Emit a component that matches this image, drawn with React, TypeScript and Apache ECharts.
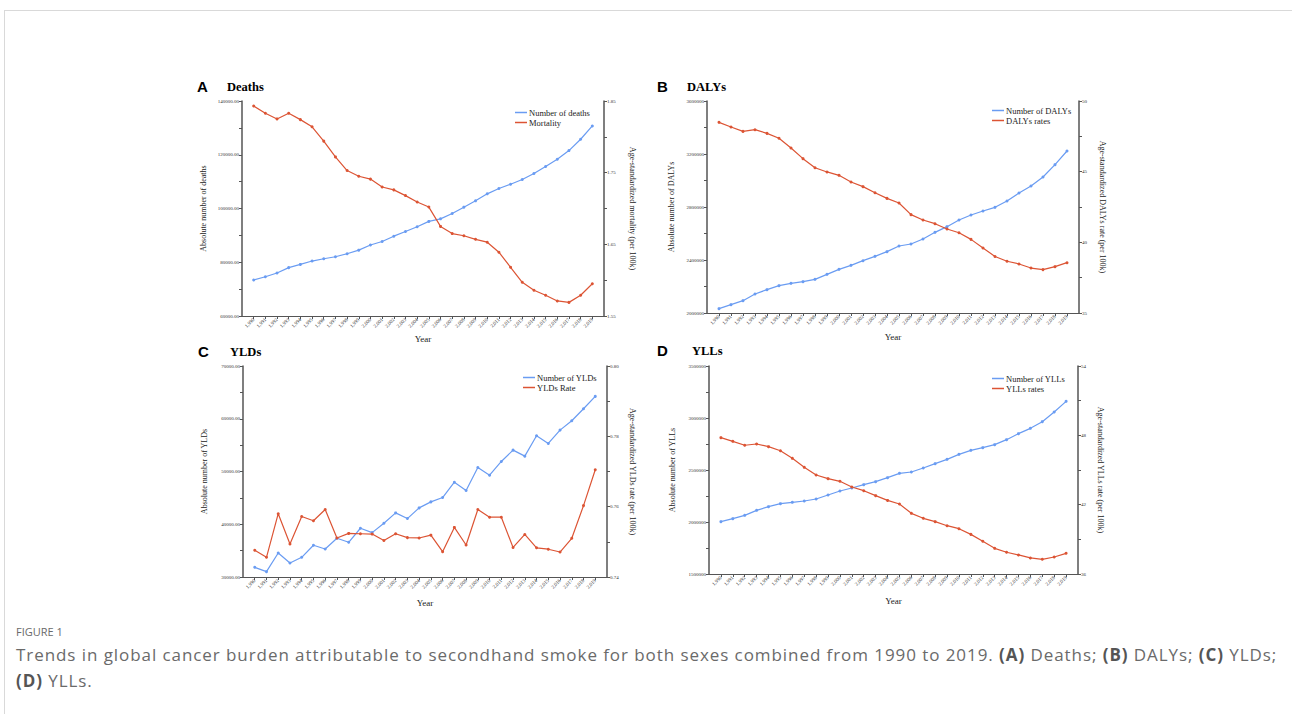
import React, { useEffect, useRef } from "react";
import * as echarts from "echarts";

const years = [1990,1991,1992,1993,1994,1995,1996,1997,1998,1999,2000,2001,2002,2003,2004,2005,2006,2007,2008,2009,2010,2011,2012,2013,2014,2015,2016,2017,2018,2019];

const deathsNumber = [73400,74600,76000,78000,79200,80450,81300,82050,83150,84500,86400,87740,89700,91450,93200,95200,96150,98140,100500,102850,105450,107430,109040,110770,113000,115600,118330,121550,125760,130710];
const deathsRate = [1.843,1.833,1.825,1.833,1.824,1.814,1.794,1.772,1.753,1.745,1.741,1.730,1.726,1.718,1.709,1.702,1.675,1.665,1.662,1.657,1.653,1.639,1.618,1.597,1.586,1.579,1.571,1.569,1.579,1.595];

const dalysNumber = [2032700,2062900,2093100,2143400,2176100,2206300,2223900,2236500,2254100,2291800,2329600,2359700,2394900,2427700,2462900,2505700,2520800,2558500,2608800,2651600,2701900,2739600,2769800,2797500,2845300,2905700,2958500,3026400,3119500,3222600];
const dalysRate = [48.49,48.16,47.85,47.97,47.71,47.36,46.67,45.92,45.28,44.98,44.74,44.27,43.94,43.51,43.11,42.78,41.96,41.58,41.32,40.94,40.68,40.21,39.6,39.0,38.66,38.47,38.18,38.07,38.28,38.56];

const yldsNumber = [31835,31013,34557,32658,33734,36013,35316,37342,36582,39241,38418,40190,42152,41076,43101,44241,45063,47975,46392,50759,49304,51899,54051,52911,56772,55316,57848,59620,61899,64241];
const yldsRate = [0.7476,0.7456,0.7580,0.7494,0.7572,0.7560,0.7592,0.7511,0.7524,0.7523,0.7522,0.7504,0.7523,0.7512,0.7511,0.7519,0.7472,0.7541,0.7491,0.7592,0.7570,0.7570,0.7484,0.7521,0.7483,0.7479,0.7471,0.7510,0.7603,0.7705];

const yllsNumber = [2003200,2032100,2064100,2112200,2147400,2176300,2189100,2201900,2221200,2259600,2298100,2326900,2359000,2387800,2426300,2467900,2480800,2519200,2560900,2602600,2650600,2689100,2714700,2743600,2791700,2849400,2900600,2964700,3057700,3160300];
const yllsRate = [47.8,47.48,47.14,47.25,47.02,46.67,46.01,45.23,44.57,44.25,44.02,43.53,43.21,42.78,42.37,42.06,41.25,40.82,40.53,40.18,39.92,39.43,38.83,38.22,37.88,37.65,37.39,37.27,37.47,37.79];

// tick labels (major) and tick marks (major + minor)
const deathsLeftLabels = [60000,80000,100000,120000,140000];
const deathsLeftTicks = [60000,70000,80000,90000,100000,110000,120000,130000,140000];
const deathsRightLabels = [1.55,1.65,1.75,1.85];
const deathsRightTicks = [1.55,1.6,1.65,1.7,1.75,1.8,1.85];

const dalysLeftLabels = [2000000,2400000,2800000,3200000,3600000];
const dalysLeftTicks = [2000000,2200000,2400000,2600000,2800000,3000000,3200000,3400000,3600000];
const dalysRightLabels = [35,40,45,50];
const dalysRightTicks = [35,37.5,40,42.5,45,47.5,50];

const yldsLeftLabels = [30000,40000,50000,60000,70000];
const yldsLeftTicks = [30000,35000,40000,45000,50000,55000,60000,65000,70000];
const yldsRightLabels = [0.74,0.76,0.78,0.80];
const yldsRightTicks = [0.74,0.75,0.76,0.77,0.78,0.79,0.80];

const yllsLeftLabels = [1500000,2000000,2500000,3000000,3500000];
const yllsLeftTicks = [1500000,1750000,2000000,2250000,2500000,2750000,3000000,3250000,3500000];
const yllsRightLabels = [36,42,48,54];
const yllsRightTicks = [36,39,42,45,48,51,54];

const BLUE = "#6a9cf2";
const RED = "#dc5434";
const SERIF = '"Liberation Serif", "Times New Roman", serif';
const SANS = '"Liberation Sans", Arial, sans-serif';
const AXIS = "#555";

type Panel = {
  letter: string; title: string; grid: { left: number; top: number; width: number; height: number };
  letterPos: [number, number]; titlePos: [number, number];
  num: number[]; rate: number[]; numName: string; rateName: string;
  leftName: string; rightName: string;
  leftLabels: number[]; leftTicks: number[]; rightLabels: number[]; rightTicks: number[];
  leftFmt: (v: number) => string; rightFmt: (v: number) => string;
  leftGap: number; rightGap: number; yearGap: number; legendPos: [number, number];
};

const panels: Panel[] = [
  {
    letter: "A", title: "Deaths", grid: { left: 242, top: 101, width: 362, height: 215 },
    letterPos: [197, 87], titlePos: [227, 87],
    num: deathsNumber, rate: deathsRate, numName: "Number of deaths", rateName: "Mortality",
    leftName: "Absolute number of deaths", rightName: "Age-standardized mortality (per 100k)",
    leftLabels: deathsLeftLabels, leftTicks: deathsLeftTicks, rightLabels: deathsRightLabels, rightTicks: deathsRightTicks,
    leftFmt: (v) => v.toFixed(2), rightFmt: (v) => v.toFixed(2),
    leftGap: 35, rightGap: 24, yearGap: 18, legendPos: [515, 108],
  },
  {
    letter: "B", title: "DALYs", grid: { left: 707, top: 101, width: 372, height: 212 },
    letterPos: [657, 87], titlePos: [687, 87],
    num: dalysNumber, rate: dalysRate, numName: "Number of DALYs", rateName: "DALYs rates",
    leftName: "Absolute number of DALYs", rightName: "Age-standardized DALYs rate (per 100k)",
    leftLabels: dalysLeftLabels, leftTicks: dalysLeftTicks, rightLabels: dalysRightLabels, rightTicks: dalysRightTicks,
    leftFmt: (v) => String(Math.round(v)), rightFmt: (v) => String(v),
    leftGap: 32, rightGap: 19, yearGap: 19, legendPos: [992, 106],
  },
  {
    letter: "C", title: "YLDs", grid: { left: 243, top: 366, width: 364, height: 211 },
    letterPos: [198, 352], titlePos: [230, 352],
    num: yldsNumber, rate: yldsRate, numName: "Number of YLDs", rateName: "YLDs Rate",
    leftName: "Absolute number of YLDs", rightName: "Age-standardized YLDs rate (per 100k)",
    leftLabels: yldsLeftLabels, leftTicks: yldsLeftTicks, rightLabels: yldsRightLabels, rightTicks: yldsRightTicks,
    leftFmt: (v) => v.toFixed(2), rightFmt: (v) => v.toFixed(2),
    leftGap: 35, rightGap: 21, yearGap: 21, legendPos: [523, 373],
  },
  {
    letter: "D", title: "YLLs", grid: { left: 709, top: 366, width: 369, height: 208 },
    letterPos: [657, 351], titlePos: [692, 351],
    num: yllsNumber, rate: yllsRate, numName: "Number of YLLs", rateName: "YLLs rates",
    leftName: "Absolute number of YLLs", rightName: "Age-standardized YLLs rate (per 100k)",
    leftLabels: yllsLeftLabels, leftTicks: yllsLeftTicks, rightLabels: yllsRightLabels, rightTicks: yllsRightTicks,
    leftFmt: (v) => String(Math.round(v)), rightFmt: (v) => String(v),
    leftGap: 33, rightGap: 18, yearGap: 22, legendPos: [992, 374],
  },
];

function buildOption() {
  const grid: any[] = [];
  const xAxis: any[] = [];
  const yAxis: any[] = [];
  const series: any[] = [];
  const legend: any[] = [];
  const graphic: any[] = [];
  const line = { show: true, onZero: false, lineStyle: { color: AXIS, width: 1.5 } };

  panels.forEach((p, i) => {
    grid.push({ ...p.grid, containLabel: false });
    xAxis.push({
      type: "value", gridIndex: i, min: 1989, max: 2020,
      axisLine: { ...line, lineStyle: { color: AXIS, width: 1 } },
      axisTick: { show: true, customValues: years, length: 3, lineStyle: { color: AXIS } },
      axisLabel: { customValues: years, rotate: 45, fontSize: 5, color: "#333", margin: 3, fontFamily: SERIF },
      splitLine: { show: false },
      name: "Year", nameLocation: "middle", nameGap: p.yearGap,
      nameTextStyle: { fontFamily: SERIF, fontSize: 9, color: "#222" },
    });
    yAxis.push({
      type: "value", gridIndex: i, position: "left", min: p.leftTicks[0], max: p.leftTicks[p.leftTicks.length - 1],
      axisLine: line,
      axisTick: { show: true, customValues: p.leftTicks, length: 3, lineStyle: { color: AXIS } },
      axisLabel: { customValues: p.leftLabels, formatter: p.leftFmt, fontSize: 5, color: "#333", margin: 3, fontFamily: SERIF },
      splitLine: { show: false },
      name: p.leftName, nameLocation: "middle", nameGap: p.leftGap,
      nameTextStyle: { fontFamily: SERIF, fontSize: 8, color: "#222" },
    });
    yAxis.push({
      type: "value", gridIndex: i, position: "right", min: p.rightTicks[0], max: p.rightTicks[p.rightTicks.length - 1],
      axisLine: line,
      axisTick: { show: true, customValues: p.rightTicks, length: 3, lineStyle: { color: AXIS } },
      axisLabel: { customValues: p.rightLabels, formatter: p.rightFmt, fontSize: 5, color: "#333", margin: 3, fontFamily: SERIF },
      splitLine: { show: false },
      name: p.rightName, nameLocation: "middle", nameGap: p.rightGap, nameRotate: -90,
      nameTextStyle: { fontFamily: SERIF, fontSize: 8, color: "#222" },
    });
    const common = { type: "line", xAxisIndex: i, symbol: "circle", symbolSize: 3, lineStyle: { width: 1.2 } };
    series.push({ ...common, name: p.numName, yAxisIndex: 2 * i, color: BLUE, data: years.map((y, k) => [y, p.num[k]]) });
    series.push({ ...common, name: p.rateName, yAxisIndex: 2 * i + 1, color: RED, data: years.map((y, k) => [y, p.rate[k]]) });
    legend.push({
      data: [p.numName, p.rateName], orient: "vertical", left: p.legendPos[0], top: p.legendPos[1],
      icon: "rect", itemWidth: 12, itemHeight: 1.5, itemGap: 1, padding: 0,
      textStyle: { fontFamily: SERIF, fontSize: 8.5, color: "#222", padding: [0, 0, 0, -3] },
    });
    graphic.push({
      type: "text", left: p.letterPos[0], top: p.letterPos[1] - 8,
      style: { text: p.letter, font: `bold 15px ${SANS}`, fill: "#000" },
    });
    graphic.push({
      type: "text", left: p.titlePos[0], top: p.titlePos[1] - 7,
      style: { text: p.title, font: `bold 12.5px ${SERIF}`, fill: "#000" },
    });
  });

  return { animation: false, backgroundColor: "transparent", grid, xAxis, yAxis, series, legend, graphic, tooltip: { show: false } };
}

export default function App() {
  const ref = useRef<HTMLDivElement>(null);
  useEffect(() => {
    if (!ref.current) return;
    const chart = echarts.init(ref.current, undefined, { renderer: "svg" });
    chart.setOption(buildOption() as any);
    return () => chart.dispose();
  }, []);
  const bold = { color: "#555", fontWeight: 700 } as const;
  return (
    <div style={{ position: "absolute", left: 0, top: 0, width: 1292, height: 714, background: "#fff", overflow: "hidden" }}>
      <div style={{ position: "absolute", left: 4, top: 10, width: 1288, height: 0, borderTop: "1px solid #d9d9d9" }} />
      <div style={{ position: "absolute", left: 4, top: 10, width: 0, height: 704, borderLeft: "1px solid #d9d9d9" }} />
      <div ref={ref} style={{ position: "absolute", left: 0, top: 0, width: 1292, height: 714 }} />
      <div style={{ position: "absolute", left: 16, top: 624, fontFamily: '"Open Sans", sans-serif', color: "#6a6a6a" }}>
        <div style={{ fontSize: 11, lineHeight: "16px", whiteSpace: "nowrap" }}>FIGURE 1</div>
        <div style={{ fontSize: 17, lineHeight: "26px", whiteSpace: "nowrap", marginTop: 2, letterSpacing: "0.93px" }}>
          Trends in global cancer burden attributable to secondhand smoke for both sexes combined from 1990 to 2019. <span style={bold}>(A)</span> Deaths; <span style={bold}>(B)</span> DALYs; <span style={bold}>(C)</span> YLDs;
          <br />
          <span style={bold}>(D)</span> YLLs.
        </div>
      </div>
    </div>
  );
}
